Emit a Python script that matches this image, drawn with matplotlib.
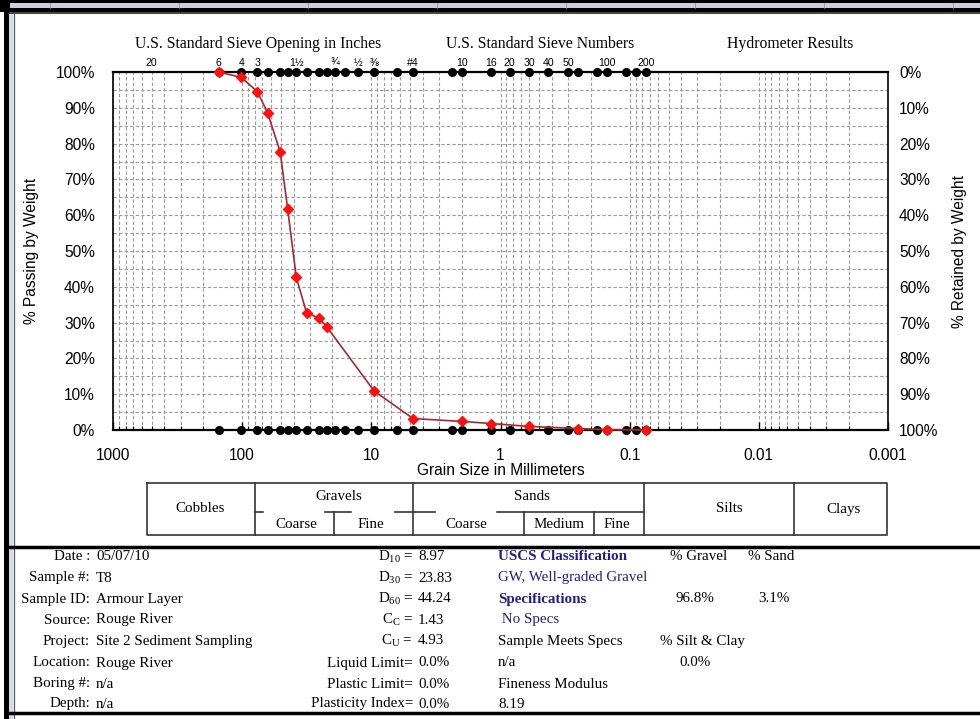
import matplotlib
matplotlib.use("Agg")
import matplotlib.pyplot as plt
from matplotlib.ticker import FixedLocator, LogLocator, NullFormatter
from matplotlib.patches import Rectangle

# ---------------- data ----------------
sieve_mm = [152.4, 101.6, 76.2, 63.5, 50.8, 44.45, 38.1, 31.75, 25.4, 22.2, 19.05,
            15.9, 12.7, 9.525, 6.35, 4.75, 2.36, 2.0, 1.18, 0.85, 0.6, 0.425, 0.3,
            0.25, 0.18, 0.15, 0.106, 0.09, 0.075]
grain_mm = [152.4, 101.6, 76.2, 63.5, 50.8, 44.45, 38.1, 31.75, 25.4, 22.2, 9.525,
            4.75, 2.0, 1.18, 0.6, 0.25, 0.15, 0.075]
passing = [100, 98.5, 94.5, 88.6, 77.7, 61.8, 42.6, 32.8, 31.2, 28.9, 10.9,
           3.2, 2.4, 1.8, 1.0, 0.4, 0.1, 0.0]
top_label_text = ["20", "6", "4", "3", "1½", "¾", "½", "⅜", "#4", "10", "16", "20",
                  "30", "40", "50", "100", "200"]
top_label_mm = [508, 152.4, 101.6, 76.2, 38.1, 19.05, 12.7, 9.525, 4.75, 2.0, 1.18,
                0.85, 0.6, 0.425, 0.3, 0.15, 0.075]
x_ticks = [1000, 100, 10, 1, 0.1, 0.01, 0.001]
x_tick_labels = ["1000", "100", "10", "1", "0.1", "0.01", "0.001"]
y_ticks = list(range(0, 101, 10))

headers = ["U.S. Standard Sieve Opening in Inches", "U.S. Standard Sieve Numbers",
           "Hydrometer Results"]

info_labels = ["Date :", "Sample #:", "Sample ID:", "Source:", "Project:", "Location:",
               "Boring #:", "Depth:"]
info_values = ["05/07/10", "T8", "Armour Layer", "Rouge River", "Site 2 Sediment Sampling",
               "Rouge River", "n/a", "n/a"]
mid_labels = [r"D$_{\mathrm{10}}$ =", r"D$_{\mathrm{30}}$ =", r"D$_{\mathrm{60}}$ =",
              r"C$_{\mathrm{C}}$ =", r"C$_{\mathrm{U}}$ =",
              "Liquid Limit=", "Plastic Limit=", "Plasticity Index="]
mid_values = ["8.97", "23.83", "44.24", "1.43", "4.93", "0.0%", "0.0%", "0.0%"]

SERIF = ["Liberation Serif", "DejaVu Serif"]
SANS = ["Liberation Sans", "DejaVu Sans"]
plt.rcParams['font.family'] = SANS
plt.rcParams['mathtext.fontset'] = 'custom'
plt.rcParams['mathtext.rm'] = 'Liberation Serif'
plt.rcParams['mathtext.it'] = 'Liberation Serif:italic'

W, H = 980, 719
fig = plt.figure(figsize=(W / 100, H / 100), dpi=100)
fig.patch.set_facecolor("white")

# ---------- background overlay in pixel coordinates ----------
bg = fig.add_axes([0, 0, 1, 1])
bg.set_xlim(0, W)
bg.set_ylim(H, 0)
bg.axis("off")
bg.set_zorder(0)

# spreadsheet frame
bg.add_patch(Rectangle((0, 0), W, 12, color="black", lw=0))
bg.add_patch(Rectangle((10, 3), W, 5, color="#c9d0da", lw=0))
for xs in range(50, W, 129):
    bg.plot([xs, xs], [3, 8], color="#8899b0", lw=0.6)
bg.plot([9, W], [13, 13], color="#222222", lw=1.2)
bg.add_patch(Rectangle((4, 0), 5, H, color="black", lw=0))
bg.add_patch(Rectangle((9, 13), 4, H - 13, color="#cfdcea", lw=0))
bg.plot([13.5, 13.5], [13, H], color="#555555", lw=0.9)

# headers
hx = [258, 540, 790]
for t, x in zip(headers, hx):
    bg.text(x, 44, t, ha="center", va="center", fontsize=11.3, family=SERIF)

# classification table
tc = "#333333"
lw_t = 1.2
L, R, T, B, M = 147, 887, 483, 535, 512
bg.plot([L, R, R, L, L], [T, T, B, B, T], color=tc, lw=lw_t)
for xv in [255, 413, 644, 794]:
    bg.plot([xv, xv], [T, B], color=tc, lw=lw_t)
for xv in [334, 524, 594]:
    bg.plot([xv, xv], [M, B], color=tc, lw=lw_t)
for x0, x1 in [(255, 263), (325, 351), (395, 413), (413, 435), (497, 644)]:
    bg.plot([x0, x1], [M, M], color=tc, lw=lw_t)
table_txt = [("Cobbles", 200, 509), ("Gravels", 339, 497), ("Coarse", 296, 525),
             ("Fine", 371, 525), ("Sands", 532, 497), ("Coarse", 466, 525),
             ("Medium", 559, 525), ("Fine", 617, 525), ("Silts", 729, 509),
             ("Clays", 843, 509)]
for t, x, y in table_txt:
    bg.text(x, y, t, ha="center", va="center", fontsize=10.8, family=SERIF)

# info block
bg.plot([9, W], [547, 547], color="black", lw=2.5)
bg.plot([9, W], [713, 713], color="black", lw=2.5)
rows_y = [557, 578, 599, 620, 641, 663, 684, 704]
for lab, val, ml, mv, y in zip(info_labels, info_values, mid_labels, mid_values, rows_y):
    bg.text(90, y, lab, ha="right", va="center", fontsize=10.8, family=SERIF)
    bg.text(96, y, val, ha="left", va="center", fontsize=10.8, family=SERIF)
    bg.text(413, y, ml, ha="right", va="center", fontsize=10.8, family=SERIF)
    bg.text(418, y, mv, ha="left", va="center", fontsize=10.8, family=SERIF)

navy = "#1e1e8c"
right_txt = [
    ("USCS Classification", 498, 557, navy, "bold"),
    ("% Gravel", 670, 557, "black", "normal"),
    ("% Sand", 748, 557, "black", "normal"),
    ("GW, Well-graded Gravel", 498, 578, navy, "normal"),
    ("Specifications", 498, 599, navy, "bold"),
    ("96.8%", 675, 599, "black", "normal"),
    ("3.1%", 758, 599, "black", "normal"),
    (" No Specs", 498, 620, navy, "normal"),
    ("Sample Meets Specs", 498, 641, "black", "normal"),
    ("% Silt & Clay", 660, 641, "black", "normal"),
    ("n/a", 498, 663, "black", "normal"),
    ("0.0%", 679, 663, "black", "normal"),
    ("Fineness Modulus", 498, 684, "black", "normal"),
    ("8.19", 498, 704, "black", "normal"),
]
for t, x, y, c, w in right_txt:
    bg.text(x, y, t, ha="left", va="center", fontsize=10.8, family=SERIF,
            color=c, fontweight=w)

# ---------------- main chart ----------------
ax = fig.add_axes([113 / W, 1 - 430 / H, (888 - 113) / W, (430 - 72) / H])
ax.set_zorder(2)
ax.set_xscale("log")
ax.set_xlim(1000, 0.001)
ax.set_ylim(0, 100)

ax.xaxis.set_major_locator(FixedLocator(x_ticks))
ax.xaxis.set_minor_locator(LogLocator(base=10, subs=range(2, 10), numticks=20))
ax.xaxis.set_minor_formatter(NullFormatter())
ax.set_xticks(x_ticks)
ax.set_xticklabels(x_tick_labels)
ax.set_yticks(y_ticks)
ax.set_yticks(range(5, 100, 10), minor=True)
ax.set_yticklabels([f"{v}%" for v in y_ticks])
gkw = dict(color="#9a9a9a", linestyle=(0, (3, 2)), linewidth=0.8)
ax.grid(True, which="both", axis="both", **gkw)
ax.set_axisbelow(True)

ax.tick_params(axis="x", which="major", direction="in", length=6, width=1.0,
               labelsize=11.2, pad=13, top=False)
ax.tick_params(axis="x", which="minor", direction="in", length=3, width=0.8, top=False)
ax.tick_params(axis="y", which="both", length=0, labelsize=11.2, pad=13)

for s in ax.spines.values():
    s.set_color("black")
    s.set_linewidth(1.2)
ax.spines["top"].set_linewidth(1.6)
ax.spines["bottom"].set_linewidth(1.6)

ax2 = ax.twinx()
ax2.set_ylim(100, 0)
ax2.set_yticks(y_ticks)
ax2.set_yticklabels([f"{v}%" for v in y_ticks])
ax2.tick_params(axis="y", length=0, labelsize=11.2, pad=8)
ax2.set_ylabel("% Retained by Weight", fontsize=11.2, labelpad=10)
for s in ax2.spines.values():
    s.set_visible(False)

ax.set_ylabel("% Passing by Weight", fontsize=11.2, labelpad=12)
ax.set_xlabel("Grain Size in Millimeters", fontsize=11.2, labelpad=0)

# sieve markers top and bottom
ax.plot(sieve_mm, [100] * len(sieve_mm), "o", color="black", ms=5.5, clip_on=False, zorder=5)
ax.plot(sieve_mm, [0] * len(sieve_mm), "o", color="black", ms=5.5, clip_on=False, zorder=5)

# gradation curve
ax.plot(grain_mm, passing, "-", color="#a8282d", lw=1.2, clip_on=False, zorder=6)
ax.plot(grain_mm, passing, "D", color="#ff1010", ms=5, mec="#ff1010", clip_on=False, zorder=7)

# sieve labels above chart
tr = ax.get_xaxis_transform()
for t, x in zip(top_label_text, top_label_mm):
    ax.text(x, 1.012, t, transform=tr, ha="center", va="bottom", fontsize=7.6,
            family=SANS, clip_on=False)

fig.savefig("out.png", dpi=100)
